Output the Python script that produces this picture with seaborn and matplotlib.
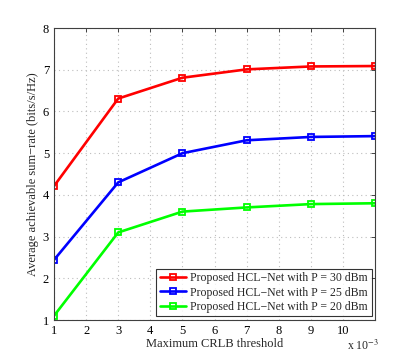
import matplotlib
matplotlib.use("Agg")
import matplotlib.pyplot as plt
import seaborn as sns
import pandas as pd

crlb = [1, 3, 5, 7, 9, 11]
rate_p30 = [4.21, 6.31, 6.81, 7.01, 7.08, 7.09]
rate_p25 = [2.44, 4.30, 5.00, 5.31, 5.39, 5.41]
rate_p20 = [1.10, 3.10, 3.60, 3.70, 3.78, 3.80]
series_names = ["Proposed HCL\u2212Net with P = 30 dBm",
                "Proposed HCL\u2212Net with P = 25 dBm",
                "Proposed HCL\u2212Net with P = 20 dBm"]
x_ticks = [1, 2, 3, 4, 5, 6, 7, 8, 9, 10]
y_ticks = [1, 2, 3, 4, 5, 6, 7, 8]

sns.set_style("white")
plt.rcParams['font.family'] = ['Liberation Serif', 'DejaVu Serif']
plt.rcParams['mathtext.fontset'] = 'stix'

rows = []
for name, vals in zip(series_names, [rate_p30, rate_p25, rate_p20]):
    for x, v in zip(crlb, vals):
        rows.append({"x": x, "y": v, "series": name})
df = pd.DataFrame(rows)

fig = plt.figure(figsize=(4.15, 3.6), dpi=100)
ax = fig.add_axes([0.130, 0.111, 0.774, 0.811])

palette = {series_names[0]: (1, 0, 0), series_names[1]: (0, 0, 1), series_names[2]: (0, 1, 0)}
sns.lineplot(data=df, x="x", y="y", hue="series", palette=palette, ax=ax,
             marker="s", markersize=5, markerfacecolor="none", markeredgewidth=1.3,
             linewidth=1.9, legend=True)
for line in ax.get_lines():
    line.set_markeredgecolor(line.get_color())

ax.set_xlim(1, 11)
ax.set_ylim(1, 8)
ax.set_xticks(x_ticks)
ax.set_yticks(y_ticks)
ax.grid(True, linestyle=(0, (1, 3)), color='#bdbdbd', linewidth=0.8)
ax.tick_params(direction='in', length=3, labelsize=9, top=True, right=True,
               colors='#262626', labelcolor='black', width=0.6)
for s in ax.spines.values():
    s.set_color('#404040')
    s.set_linewidth(0.8)
ax.set_xlabel("Maximum CRLB threshold", fontsize=9, labelpad=1)
ax.set_ylabel("Average achievable sum\u2212rate (bits/s/Hz)", fontsize=9, labelpad=3)

handles, labels = ax.get_legend_handles_labels()
for h in handles:
    h.set_markeredgecolor(h.get_color())
leg = ax.legend(handles, labels, loc='lower right', fontsize=8.5, frameon=True,
                fancybox=False, edgecolor='black', borderpad=0.3, labelspacing=0.2,
                handlelength=2.2, handletextpad=0.4, borderaxespad=0.3)
leg.get_frame().set_linewidth(0.8)

fig.text(0.835, 0.027, r"x 10$^{-3}$", fontsize=8.5)

fig.savefig("out.png", dpi=100)
